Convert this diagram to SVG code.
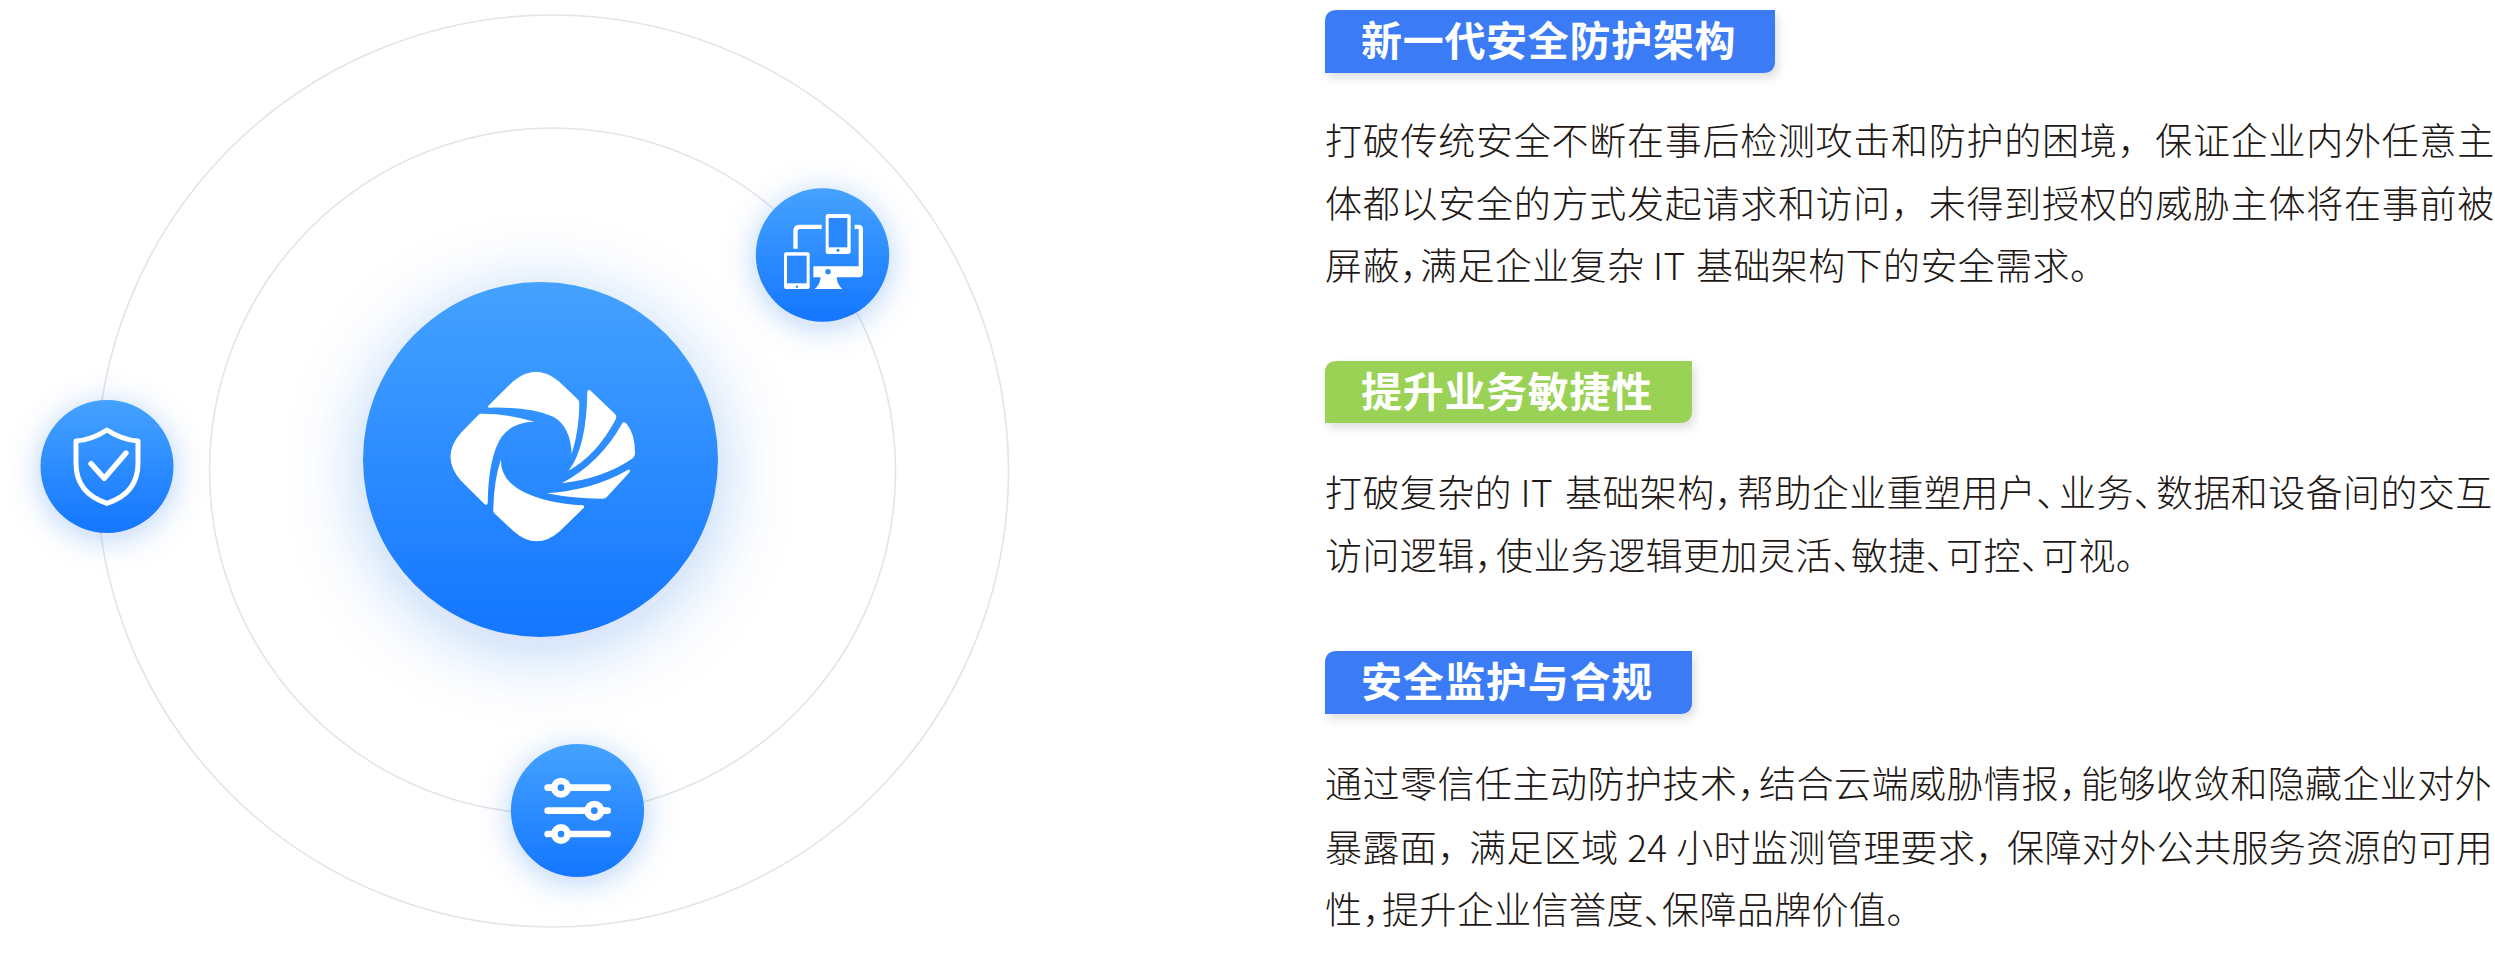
<svg xmlns="http://www.w3.org/2000/svg" width="2495" height="963" viewBox="0 0 2495 963">
<style>
.ring{fill:none;stroke:#e4e4e6;stroke-width:1.6}
.t{font-family:"Noto Sans CJK SC","Noto Sans",sans-serif;font-weight:700;font-size:41px;fill:#fff;letter-spacing:.7px}
.b{font-family:"Noto Sans CJK SC","Noto Sans",sans-serif;font-weight:300;font-size:37px;fill:#211714;letter-spacing:.4px}
.l{letter-spacing:.74px}
.h{font-feature-settings:"halt"}
.w{fill:#fff}
.k{fill:#2a88ff}
</style>
<defs>
<linearGradient id="g" x1="0" y1="0" x2="0" y2="1"><stop offset="0" stop-color="#45a2ff"/><stop offset="1" stop-color="#1476ff"/></linearGradient>
<filter id="gl" x="-60%" y="-60%" width="220%" height="220%"><feDropShadow dx="0" dy="12" stdDeviation="36" flood-color="#1a6ae0" flood-opacity=".3"/></filter>
<filter id="gs" x="-80%" y="-80%" width="260%" height="260%"><feDropShadow dx="0" dy="5" stdDeviation="16" flood-color="#1a6ae0" flood-opacity=".3"/></filter>
<filter id="bs" x="-10%" y="-30%" width="120%" height="170%"><feDropShadow dx="3" dy="5" stdDeviation="5" flood-color="#000" flood-opacity=".13"/></filter>
</defs>
<g id="connectors">
<circle class="ring" cx="552.5" cy="471" r="456"/>
<circle class="ring" cx="552.5" cy="471" r="343"/>
</g>
<g id="node-center">
<circle cx="540.5" cy="459.5" r="177.5" fill="url(#g)" filter="url(#gl)"/>
<g class="w" transform="translate(300 240) scale(.33333)">
<path d="M565 497L638 425Q708 365 778 425L833 478Q838 482 838 490Q838 570 815 642Q812 560 760 530Q690 500 570 503Q560 502 565 497Z"/>
<path d="M540 521Q620 520 703 545Q640 545 605 590Q565 650 563 790Q560 798 553 792L483 722Q420 650 483 578L535 525Z"/>
<path d="M603 657Q600 720 670 755Q740 790 848 796Q856 798 850 805L780 873Q710 935 640 873L583 820Q578 815 580 805Q582 720 603 657Z"/>
<path d="M862 455Q864 445 872 452L945 522Q952 530 946 540Q890 645 806 692Q860 620 862 455Z"/>
<path d="M967 550Q972 543 980 552Q1005 580 1005 640Q1005 650 995 657Q910 715 785 730Q900 670 967 550Z"/>
<path d="M983 690Q990 686 990 695L920 772Q915 777 905 776Q820 776 740 760Q880 750 983 690Z"/>
</g>
</g>
<g id="node-devices">
<circle cx="822.5" cy="255" r="66.7" fill="url(#g)" filter="url(#gs)"/>
<g transform="translate(720 160) scale(.33333)">
<rect class="w" x="192" y="277" width="77" height="110" rx="6"/><rect class="k" x="201" y="287" width="59" height="83"/><circle class="k" cx="231" cy="380" r="3.5"/>
<rect class="w" x="317" y="162" width="75" height="120" rx="7"/><rect class="k" x="326" y="174" width="56" height="88"/><circle class="k" cx="354" cy="271" r="4.5"/>
<path class="w" d="M220 266V212Q220 194 238 194H305V207H240Q233 207 233 214V266Z"/>
<path class="w" d="M404 194H415Q429 194 429 208V338Q429 352 415 352H350Q352 375 367 387H284Q300 375 302 352H280V319H416V207H404Z"/>
<circle class="k" cx="324" cy="335" r="8"/>
</g>
</g>
<g id="node-shield">
<circle cx="107" cy="466.5" r="66.5" fill="url(#g)" filter="url(#gs)"/>
<g transform="translate(20 380) scale(.33333)" fill="none" stroke="#fff" stroke-linejoin="round" stroke-linecap="round">
<path d="M261 150Q215 180 168 183V250Q168 340 261 370Q354 340 354 250V183Q307 180 261 150Z" stroke-width="15"/>
<path d="M213 251L253 295L318 219" stroke-width="16"/>
</g>
</g>
<g id="node-sliders">
<circle cx="577.5" cy="810.5" r="66.6" fill="url(#g)" filter="url(#gs)"/>
<g transform="translate(490 720) scale(.33333)">
<path d="M173 203H353M173 272H353M173 342H353" stroke="#fff" stroke-width="20" stroke-linecap="round" fill="none"/>
<circle class="w" cx="213" cy="203" r="30"/><circle class="k" cx="213" cy="203" r="10"/>
<circle class="w" cx="313" cy="272" r="30"/><circle class="k" cx="313" cy="272" r="10"/>
<circle class="w" cx="213" cy="342" r="30"/><circle class="k" cx="213" cy="342" r="10"/>
</g>
</g>
<g id="node-s1">
<path d="M1325 73V22Q1325 10 1337 10H1775V61Q1775 73 1763 73H1325Z" fill="#3a7cf6" filter="url(#bs)"/>
<text class="t" x="1361" y="56">新一代安全防护架构</text>
<text class="b l" x="1325" y="155">打破传统安全不断在事后检测攻击和防护的困境，保证企业内外任意主</text>
<text class="b l" x="1325" y="218">体都以安全的方式发起请求和访问，未得到授权的威胁主体将在事前被</text>
<text class="b" x="1325" y="280">屏蔽<tspan class="h">，</tspan><tspan x="1420">满足企业复杂 IT </tspan><tspan x="1696">基础架构下的安全需求。</tspan></text>
</g>
<g id="node-s2">
<path d="M1325 423V373Q1325 361 1337 361H1692V411Q1692 423 1680 423H1325Z" fill="#9ad257" filter="url(#bs)"/>
<text class="t" x="1361" y="407">提升业务敏捷性</text>
<text class="b" x="1325" y="507">打破复杂的 IT <tspan x="1565">基础架构</tspan><tspan class="h">，</tspan><tspan x="1737">帮助企业重塑用户</tspan><tspan class="h">、</tspan><tspan x="2059">业务</tspan><tspan class="h">、</tspan><tspan x="2156">数据和设备间的交互</tspan></text>
<text class="b" x="1325" y="570">访问逻辑<tspan class="h">，</tspan><tspan x="1496">使业务逻辑更加灵活</tspan><tspan class="h">、</tspan><tspan x="1851">敏捷</tspan><tspan class="h">、</tspan><tspan x="1946">可控</tspan><tspan class="h">、</tspan><tspan x="2041">可视。</tspan></text>
</g>
<g id="node-s3">
<path d="M1325 714V663Q1325 651 1337 651H1692V702Q1692 714 1680 714H1325Z" fill="#3a7cf6" filter="url(#bs)"/>
<text class="t" x="1361" y="697">安全监护与合规</text>
<text class="b" x="1325" y="798"><tspan style="letter-spacing:.5px">通过零信任主动防护技术</tspan><tspan class="h">，</tspan><tspan x="1759" style="letter-spacing:.5px">结合云端威胁情报</tspan><tspan class="h">，</tspan><tspan x="2081" style="letter-spacing:.35px">能够收敛和隐藏企业对外</tspan></text>
<text class="b" x="1325" y="862">暴露面，<tspan x="1469">满足区域 24 小时监测管理要求，</tspan><tspan x="2007">保障对外公共服务资源的可用</tspan></text>
<text class="b" x="1325" y="924">性<tspan class="h">，</tspan><tspan x="1382">提升企业信誉度</tspan><tspan class="h">、</tspan><tspan x="1662">保障品牌价值。</tspan></text>
</g>
</svg>
